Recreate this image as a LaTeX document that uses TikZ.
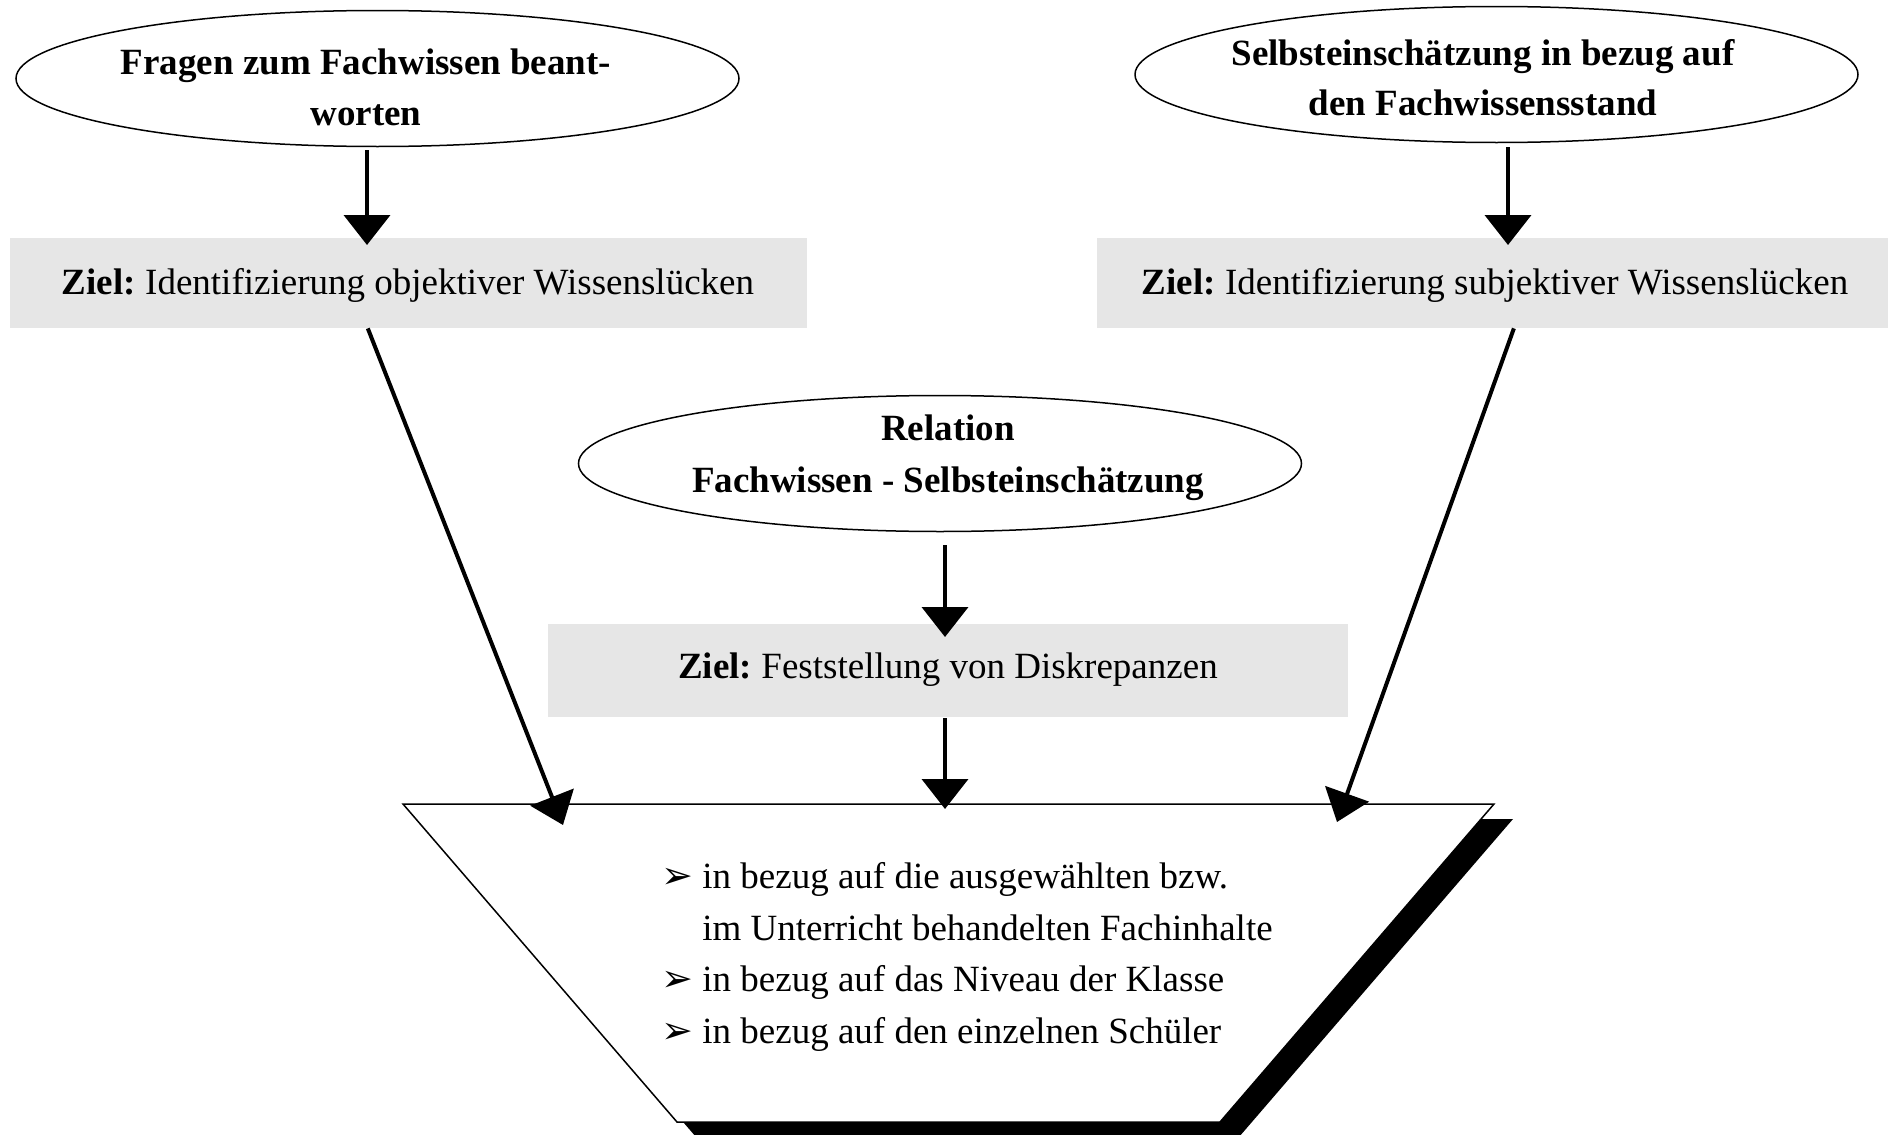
\documentclass[tikz,border=0pt]{standalone}
\usepackage{fontspec}
\setmainfont{Liberation Serif}
\newfontfamily\dejavu{DejaVu Sans}
\usetikzlibrary{arrows.meta,shapes.geometric,calc}
\definecolor{boxgray}{RGB}{230,230,230}
\newcommand\mybul{\llap{{\dejavu\fontsize{19}{19}\selectfont ➢}\hspace{4.5pt}}}
\frenchspacing
\begin{document}
\begin{tikzpicture}[x=0.5pt,y=-0.5pt,
  ell/.style={ellipse, draw, line width=0.75pt, fill=white, inner sep=0pt,
              minimum width=361.5pt, minimum height=68pt},
  zbox/.style={fill=boxgray, inner sep=0pt},
  btxt/.style={font=\fontsize{18.5}{26}\selectfont\bfseries, anchor=base, inner sep=0pt},
  rtxt/.style={font=\fontsize{18.5}{26}\selectfont, anchor=base, inner sep=0pt},
  ltxt/.style={font=\fontsize{18.5}{26}\selectfont, anchor=base west, inner sep=0pt},
  arr/.style={line width=2pt, -{Triangle[width=23pt,length=15pt]}},
]
\useasboundingbox (0,0) rectangle (1892,1135);

% grey goal boxes
\node[zbox, minimum width=398.5pt, minimum height=45pt] (b1) at (408.5,283) {};
\node[rtxt] (b1t) at (408,294) {\textbf{Ziel:} Identifizierung objektiver Wissenslücken};
\node[zbox, minimum width=395.5pt, minimum height=45pt] (b2) at (1492.5,283) {};
\node[rtxt] (b2t) at (1495,294) {\textbf{Ziel:} Identifizierung subjektiver Wissenslücken};
\node[zbox, minimum width=400pt, minimum height=46.5pt] (b3) at (948,670.5) {};
\node[rtxt] (b3t) at (948,678) {\textbf{Ziel:} Feststellung von Diskrepanzen};

% ellipses
\node[ell] (e1) at (377.5,78.5) {};
\node[btxt] (e1a) at (366,75) {Fragen zum Fachwissen beant-};
\node[btxt] (e1b) at (366,125) {worten};
\node[ell] (e2) at (1496.5,74.5) {};
\node[btxt] (e2a) at (1483,65) {Selbsteinschätzung in bezug auf};
\node[btxt] (e2b) at (1483,115) {den Fachwissensstand};
\node[ell] (e3) at (940,463.5) {};
\node[btxt] (e3a) at (948,440) {Relation};
\node[btxt] (e3b) at (948,492) {Fachwissen - Selbsteinschätzung};

% trapezoid with shadow
\fill[black] (422,819) -- (1513,819) -- (1239,1137) -- (696,1137) -- cycle;
\coordinate (q1) at (403,804);
\coordinate (q2) at (1494,804);
\coordinate (q3) at (1220,1122);
\coordinate (q4) at (677,1122);
\draw[line width=0.75pt, fill=white] (q1) -- (q2) -- (q3) -- (q4) -- cycle;

\node[ltxt] (l1) at (702,888) {\mybul in bezug auf die ausgewählten bzw.};
\node[ltxt] (l2) at (702,940) {im Unterricht behandelten Fachinhalte};
\node[ltxt] (l3) at (702,991) {\mybul in bezug auf das Niveau der Klasse};
\node[ltxt] (l4) at (702,1043) {\mybul in bezug auf den einzelnen Schüler};

% arrow tips
\coordinate (a1) at (367,245);
\coordinate (a2) at (1508,245);
\coordinate (a3) at (945,637);
\coordinate (a4) at (945,809);
\coordinate (p1) at (563,825);
\coordinate (p2) at (1337,822);

% arrows
\draw[arr, shorten <=1.5pt] (e1.south -| a1) -- (a1);
\draw[arr, shorten <=2pt] (e2.south -| a2) -- (a2);
\draw[arr, shorten <=6.5pt] (e3.south -| a3) -- (a3);
\draw[arr, shorten <=0.5pt] (b3.south -| a4) -- (a4);
\draw[arr] ($(b1.south west)!0.449!(b1.south east)$) -- (p1);
\draw[arr] ($(b2.south west)!0.527!(b2.south east)$) -- (p2);
\end{tikzpicture}
\end{document}
